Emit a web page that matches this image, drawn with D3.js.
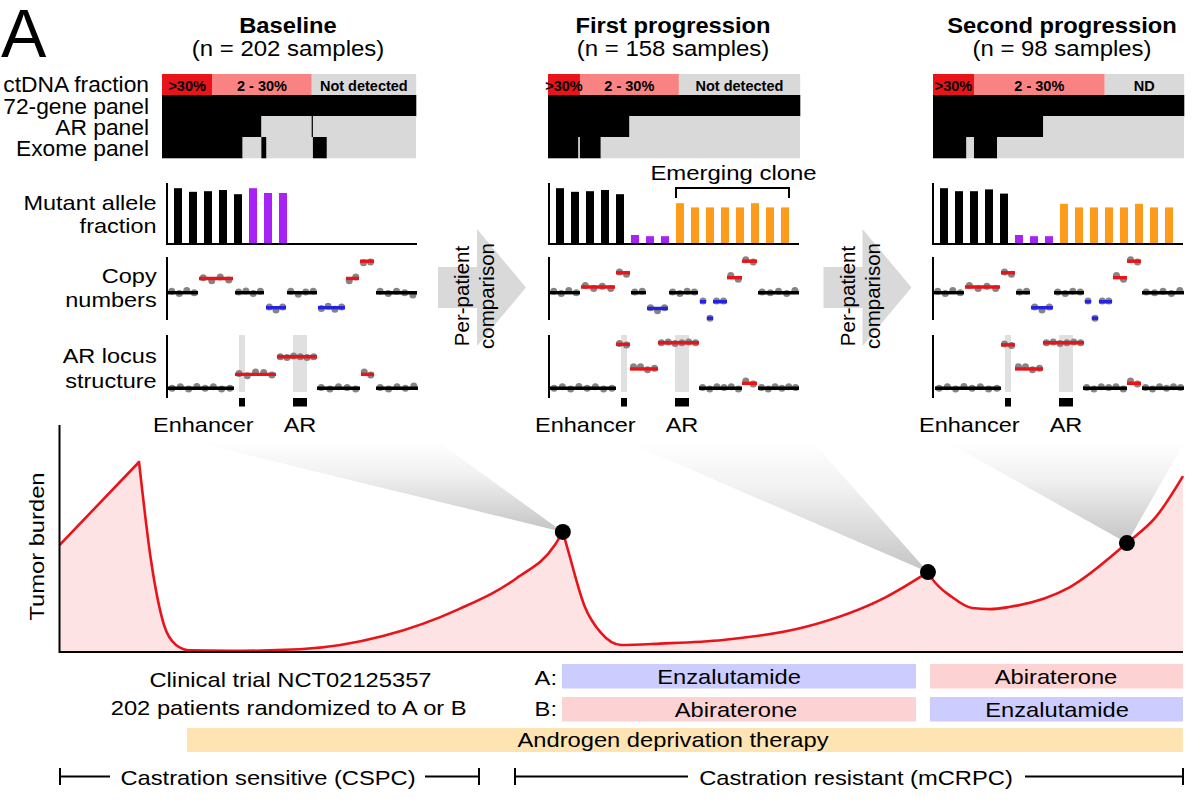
<!DOCTYPE html>
<html><head><meta charset="utf-8">
<script src="https://cdn.jsdelivr.net/npm/d3@7"></script>
<style>body{margin:0;background:#fff}svg{display:block}</style>
</head><body><svg id="c" width="1200" height="810"></svg>
<script>
// ---------------- DATA ----------------
const panelTitles = ["Baseline", "First progression", "Second progression"];
const panelSampleLabels = ["(n = 202 samples)", "(n = 158 samples)", "(n = 98 samples)"];
const panelN = [202, 158, 98];
const rowLabels = ["ctDNA fraction", "72-gene panel", "AR panel", "Exome panel"];
const ctdnaRuns = [[40, 79, 83], [20, 62, 76], [16, 51, 31]];
const ctdnaLabels = [[">30%", "2 - 30%", "Not detected"], [">30%", "2 - 30%", "Not detected"], [">30%", "2 - 30%", "ND"]];
// [sequenced(1)/not(0), sample count]
const gene72Runs = [[[1, 202]], [[1, 158]], [[1, 98]]];
const arPanelRuns = [[[1, 79], [0, 40], [1, 1], [0, 82]], [[1, 51], [0, 107]], [[1, 43], [0, 55]]];
const exomeRuns = [[[1, 64], [0, 15], [1, 4], [0, 37], [1, 11], [0, 71]], [[1, 19], [0, 1], [1, 13], [0, 125]], [[1, 13], [0, 3], [1, 9], [0, 73]]];

const mafClasses = ["truncal", "truncal", "truncal", "truncal", "truncal", "subclonal", "subclonal", "subclonal",
  "emerging", "emerging", "emerging", "emerging", "emerging", "emerging", "emerging", "emerging"];
const mafValues = [
  [0.93, 0.87, 0.88, 0.90, 0.83, 0.93, 0.85, 0.85],
  [0.93, 0.87, 0.88, 0.90, 0.83, 0.15, 0.13, 0.13, 0.68, 0.61, 0.61, 0.61, 0.61, 0.68, 0.61, 0.61],
  [0.93, 0.88, 0.88, 0.91, 0.84, 0.15, 0.13, 0.13, 0.67, 0.61, 0.61, 0.61, 0.61, 0.67, 0.61, 0.61]
];

// copy number segments: [start, end, log ratio, per-probe deviations]
const cnSegments = [
  [[1, 31, 0, [0.1, -0.05, 0.15, 0]], [32, 66, 0.95, [0.05, -0.15, 0.1, -0.1]], [68, 97, 0, [0.05, 0.12, -0.05, 0.1]],
   [99, 119, -1, [0.05, -0.15, 0.05]], [120, 150, 0, [0.1, -0.1, 0.05, 0.1]], [151, 178, -1, [-0.05, 0.1, -0.1, 0.05]],
   [179, 192, 0.95, [-0.15, 0.1]], [193, 207, 2.1, [-0.1, -0.05]], [209, 250, 0, [0.1, -0.05, 0.1, 0, -0.15]]],
  [[1, 31, 0, [0.1, -0.05, 0.15, 0]], [32, 66, 0.38, [0.1, -0.1, 0.05, -0.1]], [67, 81, 1.33, [0.05, -0.1]],
   [82, 97, 0, [0.05, 0.1]], [98, 119, -1.05, [0.05, -0.15, 0.05]], [120, 149, 0, [0.05, -0.05, 0.1, 0.05]],
   [151, 157, -0.6, [0.05]], [158, 164, -1.7, [0]], [164, 178, -0.6, [0.05, 0.05]],
   [178, 193, 1.0, [0.15, -0.1]], [193, 208, 2.1, [0.1, -0.05]], [209, 250, 0, [0.05, 0, 0.1, -0.05, 0.15]]],
  [[1, 31, 0, [0.1, -0.05, 0.15, 0]], [32, 67, 0.38, [0.1, -0.1, 0.05, -0.1]], [68, 82, 1.33, [0.05, -0.1]],
   [83, 97, 0, [0.05, 0.1]], [98, 120, -1.0, [0.05, -0.15, 0.05]], [121, 151, 0, [0.05, -0.05, 0.1, 0.05]],
   [152, 158, -0.6, [0.05]], [159, 165, -1.7, [0]], [166, 179, -0.6, [0.05, 0.05]],
   [180, 194, 1.0, [0.15, -0.1]], [194, 208, 2.1, [0.1, -0.05]], [209, 251, 0, [0.05, 0, 0.1, -0.05, 0.15]]]
];
// AR locus segments: [start, end, level, per-probe deviations]
const arSegments = [
  [[1, 67, 0, [0, 0.1, -0.05, 0.12, 0, 0.1, -0.05, 0]], [68, 109, 0.93, [0.05, -0.1, 0.15, 0.12, -0.05]],
   [110, 150, 2.1, [0, -0.05, 0.05, 0, -0.05, 0]], [150, 193, 0, [0.05, -0.05, 0.1, 0.05, -0.05]],
   [194, 207, 0.93, [0.15, -0.05]], [209, 251, 0, [0.05, -0.05, 0.1, 0, 0.15]]],
  [[1, 67, 0, [0, 0.1, -0.05, 0.12, 0, 0.1, -0.05, 0]], [67, 81, 2.93, [0.05, -0.05]],
   [81, 109, 1.29, [0.15, 0.15, -0.05, 0.05]], [109, 150, 3.04, [0, 0.05, -0.05, 0, 0.05, 0]],
   [150, 193, 0, [0.05, -0.05, 0.1, 0.05, 0.1, -0.05]], [193, 208, 0.33, [0.15, -0.05]],
   [209, 250, 0, [0.05, -0.05, 0.1, 0, 0.1, 0.05]]],
  [[2, 68, 0, [0, 0.1, -0.05, 0.12, 0, 0.1, -0.05, 0]], [68, 82, 2.9, [0.05, -0.05]],
   [82, 110, 1.29, [0.15, 0.15, -0.05, 0.05]], [110, 151, 3.04, [0, 0.05, -0.05, 0, 0.05, 0]],
   [150, 194, 0, [0.05, -0.05, 0.1, 0.05, 0.1, -0.05]], [194, 208, 0.33, [0.15, -0.05]],
   [209, 251, 0, [0.05, -0.05, 0.1, 0, 0.1, 0.05]]]
];
const enhancerRegion = [72, 78];
const arGeneRegion = [126, 140];

// tumor burden schematic (time 0-100, burden 0-100)
const cspcT = [0, 7.08];
const cspcV = [47.1, 83.7];
const adtT = [7.08, 8.14, 9.30, 10.37, 11.62, 15.18, 21.41, 28.79, 35.55, 40.71, 44.09, 44.8];
const adtV = [83.7, 40.5, 11.9, 3.1, 0.7, 0.5, 1.2, 7.0, 18.9, 32.6, 47.1, 52.9];
const line1T = [44.8, 45.26, 46.73, 48.2, 49.98, 53.45, 59.05, 66.35, 73.56, 77.3];
const line1V = [52.9, 44.9, 20.3, 8.4, 3.1, 3.7, 5.3, 11.0, 24.2, 35.2];
const line2T = [77.3, 77.57, 79.44, 81.22, 82.82, 84.51, 89.94, 95.01, 97.59, 100];
const line2V = [35.2, 33.0, 24.2, 19.4, 18.9, 19.8, 28.6, 48.0, 59.5, 77.5];
const sampleT = [44.8, 77.3, 95.01];
const sampleV = [52.9, 35.2, 48.0];

const armA = ["Enzalutamide", "Abiraterone"];
const armB = ["Abiraterone", "Enzalutamide"];

// ---------------- DRAWING ----------------
const FONT = "'Liberation Sans', Arial, Helvetica, sans-serif";
const svg = d3.select('#c');
const C = {
  red: '#e8141a', pink: '#f98383', gray: '#d9d9d9', black: '#000', blue: '#2323e0',
  truncal: '#000', subclonal: '#a822f5', emerging: '#fd9b1c', dot: '#858585',
  enza: '#ccccff', abi: '#fdd2d2', adt: '#fde4b2', fill: '#fde3e3', arrow: '#d9d9d9'
};

function label(x, y, s, o = {}) {
  return svg.append('text')
    .attr('transform', `translate(${x},${y})` + (o.rot ? ` rotate(${o.rot})` : '') + ` scale(${o.sx ?? 1.13},1)`)
    .attr('text-anchor', o.anchor || 'middle')
    .attr('font-family', FONT)
    .attr('font-size', o.size || 21)
    .attr('font-weight', o.bold ? 'bold' : 'normal')
    .attr('fill', o.fill || '#000')
    .text(s);
}

const defs = svg.append('defs');
const grad = defs.append('linearGradient').attr('id', 'wg').attr('x1', 0).attr('y1', 0).attr('x2', 0).attr('y2', 1);
grad.append('stop').attr('offset', '0%').attr('stop-color', '#ffffff');
grad.append('stop').attr('offset', '35%').attr('stop-color', '#f2f2f2');
grad.append('stop').attr('offset', '100%').attr('stop-color', '#c4c4c4');

// Big panel letter
label(1, 57, "A", { size: 68, sx: 1, anchor: 'start' });

// layout
const barX0 = [162, 548, 933], barW = [254, 252, 251];
const chartX0 = [167, 549, 933], chartW = 250;
const titleX = [288, 673, 1062];
const rowTop = 74, rowH = 21;

// left row labels
const rowBase = [92, 113.5, 135, 156];
rowLabels.forEach((r, i) => label(149, rowBase[i], r, { anchor: 'end', size: 22.8, sx: 1 }));
[["Mutant allele", 210], ["fraction", 233], ["Copy", 283.3], ["numbers", 306.7], ["AR locus", 363], ["structure", 388.3]]
  .forEach(([s, y]) => label(156.7, y, s, { anchor: 'end', size: 21, sx: 1.12 }));

panelTitles.forEach((title, p) => {
  label(titleX[p], 32.5, title, { bold: true, size: 22, sx: 1.08 });
  label(titleX[p], 55.5, panelSampleLabels[p], { size: 22, sx: 1.09 });

  const xs = d3.scaleLinear().domain([0, panelN[p]]).range([barX0[p], barX0[p] + barW[p]]);
  // ctDNA fraction row
  const ctCol = [C.red, C.pink, C.gray];
  let acc = 0;
  ctdnaRuns[p].forEach((cnt, k) => {
    svg.append('rect').attr('x', xs(acc)).attr('y', rowTop).attr('width', xs(acc + cnt) - xs(acc) + 0.2)
      .attr('height', rowH).attr('fill', ctCol[k]);
    acc += cnt;
  });
  // sequencing rows
  [gene72Runs, arPanelRuns, exomeRuns].forEach((runs, r) => {
    let a = 0;
    runs[p].forEach(([on, cnt]) => {
      svg.append('rect').attr('x', xs(a)).attr('y', rowTop + (r + 1) * rowH)
        .attr('width', xs(a + cnt) - xs(a) + (on ? 0.3 : 0)).attr('height', rowH + 0.3)
        .attr('fill', on ? C.black : C.gray);
      a += cnt;
    });
  });
  acc = 0;
  ctdnaRuns[p].forEach((cnt, k) => {
    label((xs(acc) + xs(acc + cnt)) / 2, 90.5, ctdnaLabels[p][k], { bold: true, size: 14.5, sx: 1 });
    acc += cnt;
  });

  const ax = chartX0[p];
  // Mutant allele fraction bars
  const xb = d3.scaleBand().domain(d3.range(16)).range([ax + 3.5, ax + 243.5]).paddingInner(0.467).paddingOuter(0.233);
  const ym = d3.scaleLinear().domain([0, 1]).range([244, 184]);
  svg.append('g').selectAll('rect').data(mafValues[p]).join('rect')
    .attr('x', (d, i) => xb(i)).attr('y', d => ym(d)).attr('width', xb.bandwidth())
    .attr('height', d => ym(0) - ym(d)).attr('fill', (d, i) => C[mafClasses[i]]);
  svg.append('path').attr('d', `M${ax},183V${ym(0)}H${ax + chartW}`).attr('fill', 'none').attr('stroke', '#000').attr('stroke-width', 2);

  if (p === 1) {
    const bx0 = xb(8), bx1 = xb(15) + xb.bandwidth();
    svg.append('path').attr('d', `M${bx0},198V188H${bx1}V198`).attr('fill', 'none').attr('stroke', '#000').attr('stroke-width', 2);
    label((bx0 + bx1) / 2 + 1, 179.5, "Emerging clone", { size: 21, sx: 1.14 });
  }

  const xg = d3.scaleLinear().domain([0, 250]).range([ax, ax + chartW]);
  const segColor = v => v > 0.2 ? C.red : (v < -0.2 ? C.blue : C.black);
  function drawSegs(segs, yScale) {
    const g = svg.append('g');
    segs.forEach(([s, e, v, dev]) => {
      dev.forEach((dv, k) => {
        const t = s + (e - s) * (k + 0.5) / dev.length;
        g.append('circle').attr('cx', xg(t)).attr('cy', yScale(v + dv)).attr('r', 3.5).attr('fill', C.dot);
      });
    });
    segs.forEach(([s, e, v]) => {
      g.append('line').attr('x1', xg(s)).attr('x2', xg(e)).attr('y1', yScale(v)).attr('y2', yScale(v))
        .attr('stroke', segColor(v)).attr('stroke-width', 3.4);
    });
  }
  // Copy numbers
  const ycn = d3.scaleLinear().domain([-2, 2.5]).range([322.7, 255.2]);
  svg.append('line').attr('x1', ax).attr('x2', ax).attr('y1', 257).attr('y2', 320).attr('stroke', '#000').attr('stroke-width', 2);
  drawSegs(cnSegments[p], ycn);

  // AR locus structure
  const yar = d3.scaleLinear().domain([0, 3.55]).range([388.3, 335.05]);
  [enhancerRegion, arGeneRegion].forEach(([a, b]) => {
    svg.append('rect').attr('x', xg(a)).attr('y', 335).attr('width', xg(b) - xg(a)).attr('height', 57).attr('fill', '#e0e0e0');
    svg.append('rect').attr('x', xg(a)).attr('y', 398).attr('width', xg(b) - xg(a)).attr('height', 8.5).attr('fill', '#000');
  });
  svg.append('line').attr('x1', ax).attr('x2', ax).attr('y1', 335).attr('y2', 398).attr('stroke', '#000').attr('stroke-width', 2);
  drawSegs(arSegments[p], yar);
  label(xg(-14), 432, "Enhancer", { anchor: 'start', size: 21, sx: 1.12 });
  label(xg((arGeneRegion[0] + arGeneRegion[1]) / 2), 432, "AR", { size: 21, sx: 1.12 });
});

// Per-patient comparison arrows
[0, 385.5].forEach(dx => {
  svg.append('polygon')
    .attr('points', [[438, 267], [477, 267], [477, 229], [526, 287.5], [477, 346], [477, 308], [438, 308]]
      .map(([x, y]) => `${x + dx},${y}`).join(' '))
    .attr('fill', C.arrow);
  label(469 + dx, 296, "Per-patient", { rot: -90, size: 20.5, sx: 1 });
  label(494 + dx, 296, "comparison", { rot: -90, size: 20.5, sx: 1 });
});

// Tumor burden chart
const xT = d3.scaleLinear().domain([0, 100]).range([59.5, 1183]);
const yB = d3.scaleLinear().domain([0, 100]).range([652, 425]);

// zoom wedges from samples to panels
const wedgeTops = [[190, 437], [625, 812], [945, 1185]];
wedgeTops.forEach(([l, r], i) => {
  svg.append('polygon')
    .attr('points', `${l},441 ${r},441 ${xT(sampleT[i])},${yB(sampleV[i])}`)
    .attr('fill', 'url(#wg)');
});

const phases = [[cspcT, cspcV], [adtT, adtV], [line1T, line1V], [line2T, line2V]];
let dStr = '';
phases.forEach(([T, V], i) => {
  const pts = T.map((t, j) => [t, V[j]]);
  let s = d3.line().x(d => xT(d[0])).y(d => yB(d[1])).curve(i === 0 ? d3.curveLinear : d3.curveMonotoneX)(pts);
  if (i > 0) s = s.replace(/^M/, 'L');
  dStr += s;
});
svg.append('path').attr('d', dStr + `L${xT(100)},${yB(0)}L${xT(0)},${yB(0)}Z`).attr('fill', C.fill);
svg.append('path').attr('d', dStr).attr('fill', 'none').attr('stroke', C.red).attr('stroke-width', 2.6).attr('stroke-linejoin', 'round');
svg.append('path').attr('d', `M${xT(0)},${yB(100)}V${yB(0)}H${xT(100)}`).attr('fill', 'none').attr('stroke', '#000').attr('stroke-width', 2);
sampleT.forEach((t, i) => svg.append('circle').attr('cx', xT(t)).attr('cy', yB(sampleV[i])).attr('r', 8).attr('fill', '#000'));
label(44, (yB(0) + yB(100)) / 2 + 8, "Tumor burden", { rot: -90, size: 21, sx: 1.13 });

// Trial / treatment section
label(290.5, 687.3, "Clinical trial NCT02125357", { size: 21, sx: 1.13 });
label(288.7, 715.3, "202 patients randomized to A or B", { size: 21, sx: 1.13 });
label(557, 685, "A:", { anchor: 'end', size: 21, sx: 1.13 });
label(557, 715.5, "B:", { anchor: 'end', size: 21, sx: 1.13 });
const colX = [[562, 916], [930, 1183]];
const textCx = [[729, 736], [1056, 1057]];
const drugColor = d => d === "Enzalutamide" ? C.enza : C.abi;
[armA, armB].forEach((arm, r) => {
  const y0 = r === 0 ? 664 : 697;
  arm.forEach((drug, c) => {
    svg.append('rect').attr('x', colX[c][0]).attr('y', y0).attr('width', colX[c][1] - colX[c][0]).attr('height', 24.5).attr('fill', drugColor(drug));
    label(textCx[c][r], y0 + 20.3, drug, { size: 21, sx: 1.13 });
  });
});
svg.append('rect').attr('x', 187).attr('y', 728).attr('width', 996).attr('height', 24).attr('fill', C.adt);
label(673, 747, "Androgen deprivation therapy", { size: 21, sx: 1.13 });

// Disease state brackets
function bracket(x0, x1, gap0, gap1, text, cx) {
  svg.append('path').attr('d', `M${x0},768V785M${x0},776.5H${gap0}M${gap1},776.5H${x1}M${x1},768V785`)
    .attr('fill', 'none').attr('stroke', '#000').attr('stroke-width', 2);
  label(cx, 784.5, text, { size: 21, sx: 1.13 });
}
bracket(60, 479, 110, 425, "Castration sensitive (CSPC)", 268);
bracket(515, 1183, 688, 1025, "Castration resistant (mCRPC)", 856);
</script></body></html>
